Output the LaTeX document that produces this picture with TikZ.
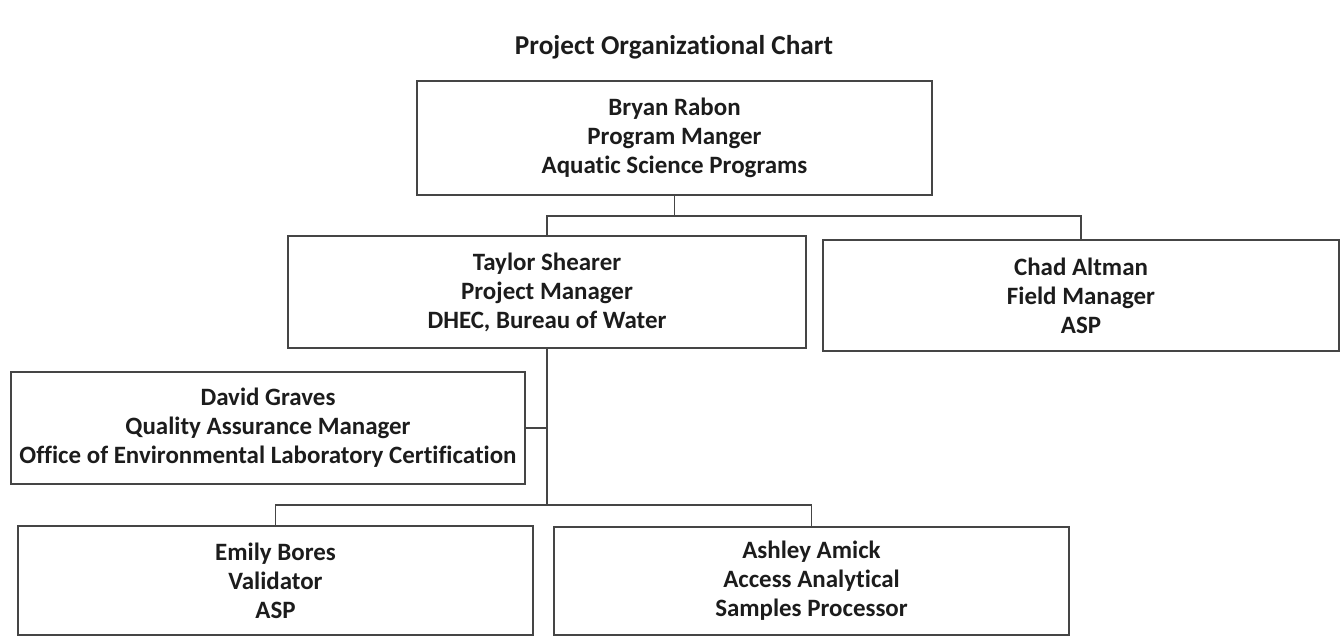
\documentclass[tikz,border=0pt]{standalone}
\usepackage{fontspec}
\setmainfont{Carlito}[Ligatures=NoCommon]
\usepackage{tikz}
\usepackage{xcolor}
\definecolor{ChartInk}{HTML}{1C1C1C}
\definecolor{ChartLine}{HTML}{454545}

\begin{document}
\begin{tikzpicture}[x=0.02cm,y=-0.02cm,
    font=\bfseries\fontsize{14.2pt}{16.5pt}\selectfont,
    orgbox/.style 2 args={draw=ChartLine,line width=1.1pt,text=ChartInk,
      align=center,inner sep=0pt,
      minimum width=#1*0.02cm,minimum height=#2*0.02cm},
    link/.style={draw=ChartLine,line width=1.1pt}]
  \useasboundingbox (0,0) rectangle (1342,639);
  \node[text=ChartInk,font=\bfseries\fontsize{15.5pt}{18pt}\selectfont] (title) at (674,47) {Project Organizational Chart};
  % boxes
  \node[orgbox={515}{114}] (rabon) at (674.5,138) {Bryan Rabon\\Program Manger\\Aquatic Science Programs};
  \node[orgbox={518}{112}] (shearer) at (547,292) {Taylor Shearer\\Project Manager\\DHEC, Bureau of Water};
  \node[orgbox={516}{111}] (altman) at (1081,295.5) {Chad Altman\\Field Manager\\ASP};
  \node[orgbox={514}{112}] (graves) at (268,428) {David Graves\\Quality Assurance Manager\\Office of Environmental Laboratory Certification};
  \node[orgbox={515}{109}] (bores) at (275.5,580.5) {Emily Bores\\Validator\\ASP};
  \node[orgbox={515}{108}] (amick) at (811.5,581) {Ashley Amick\\Access Analytical\\Samples Processor};
  % connectors
  \coordinate (busA) at (674.5,216);
  \coordinate (busB) at (547,505);
  \draw[link] (rabon.south) -- (busA);
  \draw[link] (shearer.north) |- (busA) -| (altman.north);
  \draw[link] (shearer.south) -- (busB);
  \draw[link] (graves.east) -- (graves.east -| shearer.south);
  \draw[link] (bores.north) |- (busB) -| (amick.north);
\end{tikzpicture}
\end{document}
